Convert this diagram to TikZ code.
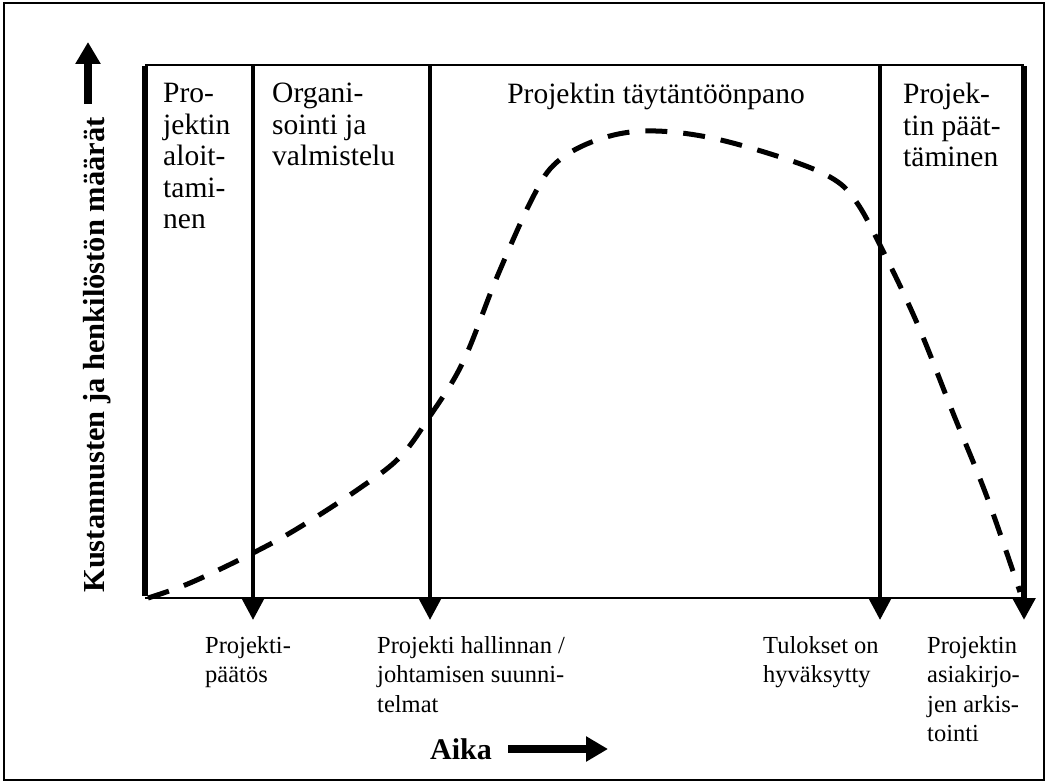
\documentclass[tikz,border=0pt]{standalone}
\usepackage{fontspec}
\setmainfont{Liberation Serif}
\usetikzlibrary{arrows.meta}

\begin{document}
\begin{tikzpicture}[x=1pt,y=-1pt,
  phase/.style={inner sep=0pt,anchor=north west,align=left,font=\fontsize{29.5}{31.5}\selectfont},
  event/.style={inner sep=0pt,anchor=north west,align=left,font=\fontsize{24.5}{29.5}\selectfont},
  milestone/.style={line width=4.5pt,-{Triangle[width=22pt,length=22pt]}},
  bigarrow/.style={line width=8pt,-{Triangle[width=24pt,length=22pt]}},
  effort/.style={line width=5pt,dash pattern=on 22pt off 16pt}]
  \useasboundingbox (0,0) rectangle (1048,783);
  \draw[line width=1.5pt] (4,3) rectangle (1044,780);

  % Frame of the chart
  \coordinate (o) at (145,598);
  \coordinate (e) at (1024,598);
  \coordinate (nw) at (145,65);
  \coordinate (ne) at (1024,65);
  \draw[line width=2pt] (nw) -- (ne);
  \draw[line width=2.5pt] (o) -- (e);
  \draw[line width=6pt] ([yshift=-1pt]nw) -- ([yshift=2pt]o);

  % Milestones
  \foreach \x/\n in {253/a,430/b,880/c}{
    \coordinate (top\n) at (\x,65);
    \coordinate (tip\n) at (\x,620);
    \draw[milestone] (top\n) -- (tip\n);
  }
  \coordinate (tipd) at (1024,620);
  \draw[milestone,line width=6pt] ([yshift=-1pt]ne) -- (tipd);

  % Phase names
  \node[phase] (start) at (163,83) {Pro-\\jektin\\aloit-\\tami-\\nen};
  \node[phase] (prep) at (272,83) {Organi-\\sointi ja\\valmistelu};
  \node[phase,anchor=north] (exec) at (656,83) {Projektin täytäntöönpano};
  \node[phase] (close) at (903,83) {Projek-\\tin päät-\\täminen};

  % Events below the time axis
  \node[event] (decision) at (205,636) {Projekti-\\päätös};
  \node[event] (plans) at (377,636) {Projekti hallinnan /\\johtamisen suunni-\\telmat};
  \node[event] (accepted) at (763,636) {Tulokset on\\hyväksytty};
  \node[event] (archive) at (927,636) {Projektin\\asiakirjo-\\jen arkis-\\tointi};

  % Axes
  \node[inner sep=0pt,rotate=90,font=\fontsize{30.5}{34}\selectfont\bfseries] (ylab) at (97,355) {Kustannusten ja henkilöstön määrät};
  \coordinate (y0) at (88,104);
  \coordinate (y1) at (88,42);
  \draw[bigarrow] (y0) -- (y1);
  \node[inner sep=0pt,anchor=base west,font=\fontsize{30}{34}\selectfont\bfseries] (time) at (430,759) {Aika};
  \coordinate (t0) at (508,749);
  \coordinate (t1) at (608,749);
  \draw[bigarrow] (t0) -- (t1);

  % Cost and staff curve
  \draw[effort] plot[smooth,tension=0.6] coordinates {(148,598) (190,583) (253,553) (300,527) (360,488) (400,457) (430,416) (463,362) (497,277) (533,197) (557,162) (597,140) (645,131) (707,137) (780,157) (830,177) (855,200) (880,245) (917,323) (953,413) (987,497) (1020,592)};
\end{tikzpicture}
\end{document}
